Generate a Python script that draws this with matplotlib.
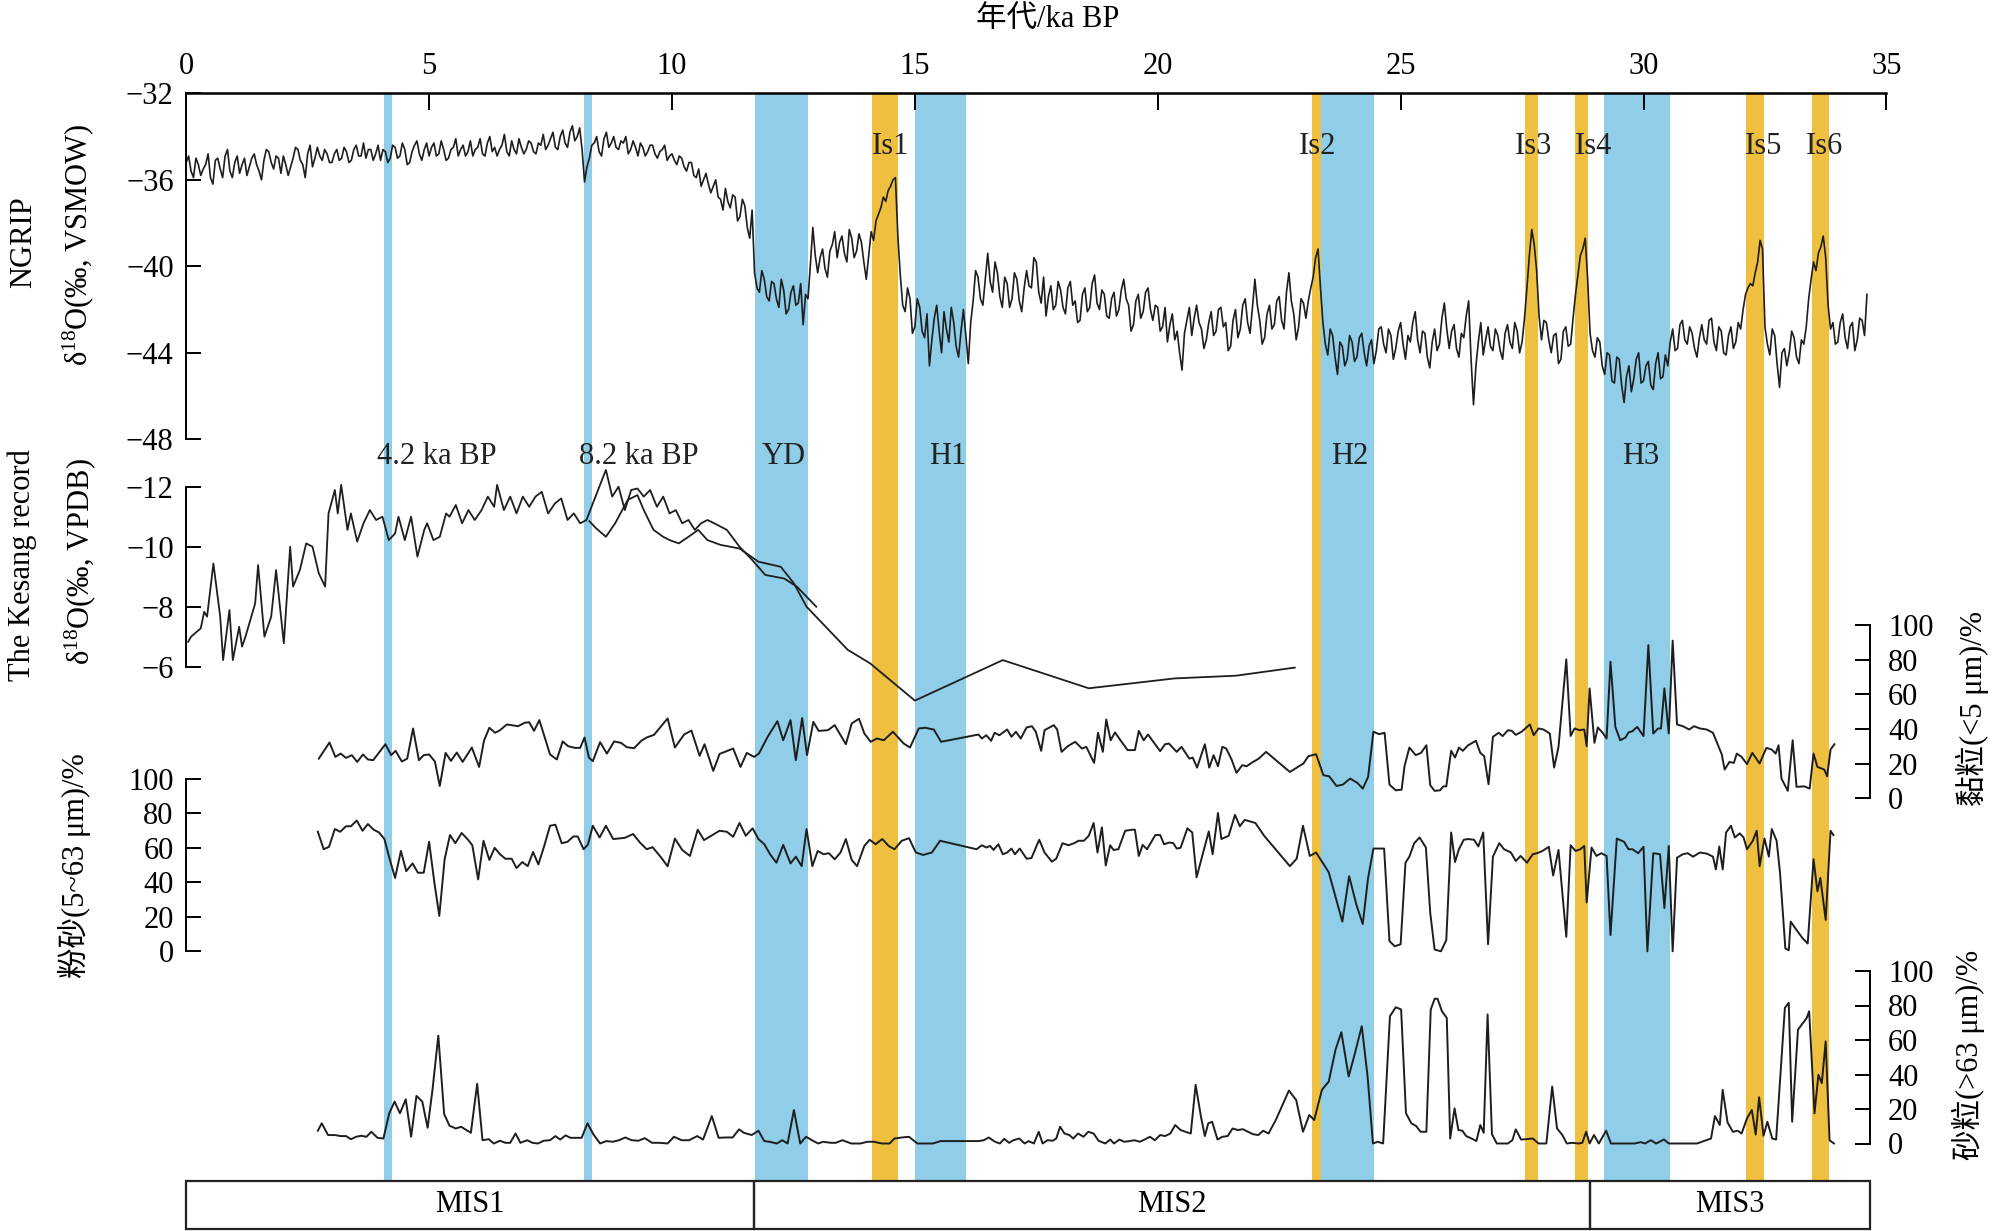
import matplotlib
matplotlib.use("Agg")
import matplotlib.pyplot as plt
from matplotlib.patches import Rectangle

plt.rcParams['font.family'] = ['Liberation Serif', 'Noto Sans CJK SC', 'DejaVu Sans']
plt.rcParams['mathtext.fontset'] = 'custom'
plt.rcParams['mathtext.rm'] = 'Liberation Serif'
plt.rcParams['mathtext.it'] = 'Liberation Serif:italic'

# ---------------- data ----------------
x_ticks = [0, 5, 10, 15, 20, 25, 30, 35]

# shaded events (start ka, end ka, kind: c = cold/blue, w = warm/gold)
band_start = [4.08, 8.19, 11.71, 14.12, 15.01, 23.17, 23.37, 27.55, 28.59, 29.19, 32.11, 33.46]
band_end   = [4.23, 8.35, 12.81, 14.65, 16.05, 23.37, 24.46, 27.83, 28.86, 30.54, 32.49, 33.81]
band_kind  = ['c', 'c', 'c', 'w', 'c', 'w', 'c', 'w', 'w', 'c', 'w', 'w']

is_labels = ['Is1', 'Is2', 'Is3', 'Is4', 'Is5', 'Is6']
is_pos = [14.51, 23.29, 27.74, 28.97, 32.47, 33.73]
event_labels = ['4.2 ka BP', '8.2 ka BP', 'YD', 'H1', 'H2', 'H3']
event_pos = [5.16, 9.32, 12.30, 15.67, 23.96, 29.95]

mis_labels = ['MIS1', 'MIS2', 'MIS3']
mis_bounds = [0.0, 11.69, 28.89, 34.66]

# NGRIP d18O (permil VSMOW), read every 0.05 ka
ngrip_age = [
 0.0,0.05,0.1,0.15,0.2,0.25,0.3,0.35,0.4,0.45,0.5,0.55,0.6,0.65,0.7,0.75,0.8,0.85,0.9,0.95,
 1.0,1.05,1.1,1.15,1.2,1.25,1.3,1.35,1.4,1.45,1.5,1.55,1.6,1.65,1.7,1.75,1.8,1.85,1.9,1.95,
 2.0,2.05,2.1,2.15,2.2,2.25,2.3,2.35,2.4,2.45,2.5,2.55,2.6,2.65,2.7,2.75,2.8,2.85,2.9,2.95,
 3.0,3.05,3.1,3.15,3.2,3.25,3.3,3.35,3.4,3.45,3.5,3.55,3.6,3.65,3.7,3.75,3.8,3.85,3.9,3.95,
 4.0,4.05,4.1,4.15,4.2,4.25,4.3,4.35,4.4,4.45,4.5,4.55,4.6,4.65,4.7,4.75,4.8,4.85,4.9,4.95,
 5.0,5.05,5.1,5.15,5.2,5.25,5.3,5.35,5.4,5.45,5.5,5.55,5.6,5.65,5.7,5.75,5.8,5.85,5.9,5.95,
 6.0,6.05,6.1,6.15,6.2,6.25,6.3,6.35,6.4,6.45,6.5,6.55,6.6,6.65,6.7,6.75,6.8,6.85,6.9,6.95,
 7.0,7.05,7.1,7.15,7.2,7.25,7.3,7.35,7.4,7.45,7.5,7.55,7.6,7.65,7.7,7.75,7.8,7.85,7.9,7.95,
 8.0,8.05,8.1,8.15,8.2,8.25,8.3,8.35,8.4,8.45,8.5,8.55,8.6,8.65,8.7,8.75,8.8,8.85,8.9,8.95,
 9.0,9.05,9.1,9.15,9.2,9.25,9.3,9.35,9.4,9.45,9.5,9.55,9.6,9.65,9.7,9.75,9.8,9.85,9.9,9.95,
 10.0,10.05,10.1,10.15,10.2,10.25,10.3,10.35,10.4,10.45,10.5,10.55,10.6,10.65,10.7,10.75,10.8,10.85,10.9,10.95,
 11.0,11.05,11.1,11.15,11.2,11.25,11.3,11.35,11.4,11.45,11.5,11.55,11.6,11.65,11.7,11.75,11.8,11.85,11.9,11.95,
 12.0,12.05,12.1,12.15,12.2,12.25,12.3,12.35,12.4,12.45,12.5,12.55,12.6,12.65,12.7,12.75,12.8,12.85,12.9,12.95,
 13.0,13.05,13.1,13.15,13.2,13.25,13.3,13.35,13.4,13.45,13.5,13.55,13.6,13.65,13.7,13.75,13.8,13.85,13.9,13.95,
 14.0,14.05,14.1,14.15,14.2,14.25,14.3,14.35,14.4,14.45,14.5,14.55,14.6,14.65,14.7,14.75,14.8,14.85,14.9,14.95,
 15.0,15.05,15.1,15.15,15.2,15.25,15.3,15.35,15.4,15.45,15.5,15.55,15.6,15.65,15.7,15.75,15.8,15.85,15.9,15.95,
 16.0,16.05,16.1,16.15,16.2,16.25,16.3,16.35,16.4,16.45,16.5,16.55,16.6,16.65,16.7,16.75,16.8,16.85,16.9,16.95,
 17.0,17.05,17.1,17.15,17.2,17.25,17.3,17.35,17.4,17.45,17.5,17.55,17.6,17.65,17.7,17.75,17.8,17.85,17.9,17.95,
 18.0,18.05,18.1,18.15,18.2,18.25,18.3,18.35,18.4,18.45,18.5,18.55,18.6,18.65,18.7,18.75,18.8,18.85,18.9,18.95,
 19.0,19.05,19.1,19.15,19.2,19.25,19.3,19.35,19.4,19.45,19.5,19.55,19.6,19.65,19.7,19.75,19.8,19.85,19.9,19.95,
 20.0,20.05,20.1,20.15,20.2,20.25,20.3,20.35,20.4,20.45,20.5,20.55,20.6,20.65,20.7,20.75,20.8,20.85,20.9,20.95,
 21.0,21.05,21.1,21.15,21.2,21.25,21.3,21.35,21.4,21.45,21.5,21.55,21.6,21.65,21.7,21.75,21.8,21.85,21.9,21.95,
 22.0,22.05,22.1,22.15,22.2,22.25,22.3,22.35,22.4,22.45,22.5,22.55,22.6,22.65,22.7,22.75,22.8,22.85,22.9,22.95,
 23.0,23.05,23.1,23.15,23.2,23.25,23.3,23.35,23.4,23.45,23.5,23.55,23.6,23.65,23.7,23.75,23.8,23.85,23.9,23.95,
 24.0,24.05,24.1,24.15,24.2,24.25,24.3,24.35,24.4,24.45,24.5,24.55,24.6,24.65,24.7,24.75,24.8,24.85,24.9,24.95,
 25.0,25.05,25.1,25.15,25.2,25.25,25.3,25.35,25.4,25.45,25.5,25.55,25.6,25.65,25.7,25.75,25.8,25.85,25.9,25.95,
 26.0,26.05,26.1,26.15,26.2,26.25,26.3,26.35,26.4,26.45,26.5,26.55,26.6,26.65,26.7,26.75,26.8,26.85,26.9,26.95,
 27.0,27.05,27.1,27.15,27.2,27.25,27.3,27.35,27.4,27.45,27.5,27.55,27.6,27.65,27.7,27.75,27.8,27.85,27.9,27.95,
 28.0,28.05,28.1,28.15,28.2,28.25,28.3,28.35,28.4,28.45,28.5,28.55,28.6,28.65,28.7,28.75,28.8,28.85,28.9,28.95,
 29.0,29.05,29.1,29.15,29.2,29.25,29.3,29.35,29.4,29.45,29.5,29.55,29.6,29.65,29.7,29.75,29.8,29.85,29.9,29.95,
 30.0,30.05,30.1,30.15,30.2,30.25,30.3,30.35,30.4,30.45,30.5,30.55,30.6,30.65,30.7,30.75,30.8,30.85,30.9,30.95,
 31.0,31.05,31.1,31.15,31.2,31.25,31.3,31.35,31.4,31.45,31.5,31.55,31.6,31.65,31.7,31.75,31.8,31.85,31.9,31.95,
 32.0,32.05,32.1,32.15,32.2,32.25,32.3,32.35,32.4,32.45,32.5,32.55,32.6,32.65,32.7,32.75,32.8,32.85,32.9,32.95,
 33.0,33.05,33.1,33.15,33.2,33.25,33.3,33.35,33.4,33.45,33.5,33.55,33.6,33.65,33.7,33.75,33.8,33.85,33.9,33.95,
 34.0,34.05,34.1,34.15,34.2,34.25,34.3,34.35,34.4,34.45,34.5,34.55,34.6]
ngrip_d18o = [
 -35.2,-34.9,-35.6,-35.9,-35.0,-35.3,-35.8,-35.5,-35.3,-34.8,-35.9,-36.2,-35.1,-35.0,-35.5,-35.9,-34.9,-34.6,-35.6,-35.9,
 -35.2,-34.9,-35.7,-35.3,-35.0,-35.8,-35.4,-35.0,-34.8,-35.3,-35.6,-36.0,-35.1,-34.6,-34.7,-35.2,-35.5,-34.9,-35.0,-35.7,
 -34.9,-35.3,-35.8,-35.4,-35.0,-34.5,-34.6,-35.1,-35.3,-35.9,-34.8,-34.4,-35.4,-35.0,-34.5,-34.9,-35.1,-34.6,-34.8,-35.2,
 -35.2,-34.8,-34.6,-35.1,-35.0,-34.5,-34.7,-35.2,-35.1,-34.6,-34.4,-34.9,-34.9,-34.3,-35.0,-34.6,-34.6,-35.1,-34.8,-34.4,
 -35.1,-34.6,-34.7,-35.2,-35.0,-34.4,-34.5,-35.0,-34.9,-34.3,-34.6,-35.3,-35.2,-34.7,-34.4,-34.2,-34.8,-35.1,-34.6,-34.3,
 -34.9,-34.5,-34.3,-34.9,-34.8,-34.2,-34.6,-35.1,-35.0,-34.6,-34.5,-34.1,-34.9,-34.6,-34.4,-34.9,-34.7,-34.2,-34.9,-34.6,
 -34.5,-34.1,-34.8,-34.9,-34.3,-34.0,-34.7,-34.5,-34.9,-34.6,-34.4,-33.9,-34.7,-34.9,-34.2,-34.6,-34.8,-34.1,-34.5,-34.8,
 -34.6,-34.2,-34.3,-34.7,-34.8,-34.3,-34.4,-33.9,-34.6,-34.4,-34.1,-33.8,-34.5,-34.6,-34.0,-33.7,-34.3,-34.5,-33.8,-33.5,
 -34.2,-34.0,-33.6,-34.6,-36.1,-35.4,-35.0,-34.4,-34.3,-34.0,-34.7,-34.9,-34.1,-33.8,-34.5,-34.3,-34.0,-34.5,-34.6,-34.2,
 -34.3,-34.0,-34.8,-34.6,-34.2,-34.5,-34.9,-34.3,-34.5,-34.9,-34.7,-34.4,-34.4,-34.8,-35.0,-34.7,-34.6,-34.4,-35.1,-34.9,
 -34.8,-35.1,-35.3,-34.9,-35.0,-35.4,-35.6,-35.2,-35.2,-35.8,-35.9,-35.5,-36.3,-36.0,-35.7,-36.2,-36.6,-36.3,-36.0,-36.8,
 -36.9,-37.4,-36.4,-37.0,-37.3,-36.7,-36.8,-37.9,-37.7,-36.9,-37.2,-38.2,-38.7,-37.4,-40.3,-41.0,-41.2,-40.2,-40.6,-41.4,
 -41.6,-40.7,-40.8,-41.5,-41.9,-40.6,-41.1,-42.2,-42.0,-41.2,-40.9,-41.8,-41.7,-40.8,-42.7,-41.3,-41.5,-39.9,-38.2,-39.5,
 -40.3,-39.6,-39.2,-40.1,-40.5,-39.3,-39.0,-38.4,-39.6,-38.9,-38.6,-39.4,-39.8,-38.3,-38.7,-39.6,-39.3,-38.5,-38.9,-39.8,
 -40.6,-39.5,-38.4,-38.8,-37.9,-37.6,-37.3,-36.8,-37.0,-36.5,-36.3,-36.0,-35.9,-38.6,-40.4,-41.8,-42.1,-41.0,-41.5,-43.1,
 -42.8,-41.5,-41.9,-43.0,-43.3,-42.2,-44.6,-43.4,-42.4,-41.8,-43.0,-44.0,-42.1,-42.9,-43.5,-41.9,-42.6,-43.7,-44.2,-43.0,
 -42.0,-43.2,-44.5,-42.6,-41.6,-40.2,-40.5,-41.5,-41.8,-40.6,-39.4,-40.7,-41.2,-39.8,-40.3,-41.4,-41.9,-40.5,-40.8,-41.9,
 -41.5,-40.3,-40.6,-41.6,-42.1,-41.0,-40.2,-40.9,-41.0,-39.6,-39.8,-41.2,-41.7,-40.5,-42.3,-41.4,-40.9,-42.0,-41.8,-40.7,
 -41.1,-41.9,-42.2,-41.0,-40.7,-41.8,-41.6,-42.6,-42.5,-41.3,-41.0,-42.1,-41.9,-40.8,-40.4,-41.7,-42.0,-41.1,-41.3,-42.3,
 -42.4,-41.5,-41.2,-42.3,-42.0,-41.1,-40.6,-41.5,-41.8,-43.0,-42.7,-41.6,-41.3,-42.4,-42.1,-41.2,-41.0,-42.0,-42.5,-41.8,
 -41.9,-43.0,-42.8,-41.9,-43.5,-42.7,-42.2,-43.4,-43.0,-44.0,-44.8,-43.1,-42.5,-41.9,-43.2,-42.4,-41.8,-42.6,-42.9,-43.8,
 -43.4,-42.6,-42.1,-43.2,-43.0,-42.0,-41.9,-42.8,-42.6,-43.9,-43.7,-42.5,-42.0,-43.3,-42.9,-41.8,-41.5,-42.6,-43.1,-41.9,
 -40.6,-41.8,-42.5,-43.6,-43.3,-42.2,-41.8,-42.9,-42.7,-41.6,-41.4,-42.5,-42.9,-41.2,-40.3,-41.6,-42.2,-43.4,-42.8,-41.5,
 -41.7,-42.4,-41.6,-41.0,-40.5,-39.6,-39.2,-41.0,-42.6,-43.6,-44.1,-42.9,-43.2,-44.2,-45.0,-43.5,-43.7,-44.6,-44.3,-43.2,
 -43.5,-44.4,-44.2,-43.3,-43.1,-44.0,-44.6,-43.7,-43.4,-44.5,-43.9,-42.9,-42.8,-43.6,-44.0,-42.9,-43.2,-44.3,-43.8,-43.0,
 -42.6,-43.6,-44.3,-43.2,-43.5,-42.6,-42.1,-43.4,-44.0,-43.0,-43.1,-44.2,-44.7,-43.5,-42.9,-43.9,-43.6,-42.4,-41.7,-42.9,
 -43.8,-43.0,-42.7,-43.8,-44.2,-43.1,-43.3,-42.3,-41.6,-44.3,-46.4,-44.6,-43.5,-42.6,-44.1,-43.4,-42.8,-43.7,-43.9,-42.9,
 -43.2,-43.9,-44.3,-43.1,-42.7,-43.5,-43.8,-42.6,-43.0,-44.0,-43.5,-42.4,-41.0,-39.5,-38.3,-39.0,-40.2,-42.3,-43.4,-42.5,
 -42.6,-43.4,-44.0,-43.2,-43.1,-44.5,-44.3,-43.0,-42.8,-43.7,-43.6,-42.4,-41.3,-40.4,-39.5,-39.2,-38.7,-40.6,-43.1,-43.9,
 -44.2,-43.3,-43.5,-44.6,-45.0,-44.0,-44.1,-45.3,-45.4,-44.2,-44.3,-45.5,-46.3,-45.1,-44.6,-45.8,-45.2,-44.3,-44.0,-45.4,
 -45.3,-44.6,-44.4,-45.5,-45.7,-44.5,-44.0,-45.2,-45.1,-44.1,-44.6,-43.5,-42.9,-43.9,-43.8,-42.7,-42.5,-43.4,-43.6,-42.8,
 -43.1,-43.8,-44.2,-43.3,-42.7,-43.4,-43.6,-42.5,-42.4,-43.5,-43.9,-42.8,-43.0,-44.0,-44.1,-43.2,-42.8,-43.8,-43.5,-42.6,
 -42.9,-42.0,-41.3,-41.0,-40.8,-40.9,-40.3,-39.8,-38.8,-39.2,-42.8,-43.6,-44.1,-42.9,-43.2,-44.5,-45.6,-44.0,-43.8,-44.6,
 -44.0,-43.0,-43.3,-44.2,-44.5,-43.4,-43.6,-42.8,-41.5,-40.6,-39.8,-40.2,-39.4,-39.1,-38.6,-39.6,-41.8,-42.9,-42.6,-43.6,
 -43.5,-42.6,-42.2,-43.3,-43.8,-42.8,-42.6,-43.9,-43.4,-42.4,-42.5,-43.2,-41.3]

# Kesang cave d18O (permil VPDB) - record A
kes_a_age = [0.04,0.10,0.30,0.37,0.43,0.56,0.70,0.76,0.89,0.96,1.09,1.15,1.22,1.42,1.48,1.61,1.75,1.85,2.01,2.14,
 2.20,2.34,2.47,2.60,2.73,2.86,2.93,3.06,3.12,3.19,3.32,3.39,3.52,3.65,3.78,3.91,4.04,4.17,4.30,4.37,
 4.50,4.63,4.76,4.90,4.96,5.09,5.22,5.35,5.42,5.55,5.68,5.81,5.94,6.08,6.21,6.34,6.40,6.54,6.67,6.80,
 6.93,7.06,7.19,7.32,7.45,7.59,7.72,7.85,7.98,8.11,8.24,8.37,8.64,8.77,8.90,9.03,9.16,9.29,9.42,9.55,
 9.69,9.82,9.95,10.08,10.21,10.34,10.47,10.60,10.73,10.87,11.00,11.13,11.39,11.65,11.92,12.31,12.57,12.97]
kes_a_d18o = [-6.83,-7.0,-7.28,-7.83,-7.67,-9.44,-7.67,-6.22,-7.89,-6.22,-7.33,-6.67,-7.0,-8.11,-9.39,-7.0,-7.67,-9.22,-6.78,-10.0,
 -8.67,-9.22,-10.11,-10.0,-9.11,-8.67,-11.11,-11.89,-11.11,-12.06,-10.56,-11.11,-10.17,-10.78,-11.22,-10.89,-11.0,-10.22,-10.44,-11.0,
 -10.22,-11.0,-9.67,-10.56,-10.78,-10.22,-10.33,-11.11,-11.0,-11.39,-10.78,-11.22,-10.89,-11.22,-11.67,-11.33,-12.06,-11.22,-11.67,-11.11,
 -11.67,-11.33,-11.67,-11.83,-11.11,-11.44,-11.61,-10.89,-11.11,-10.78,-10.89,-11.44,-12.56,-11.67,-12.0,-11.22,-11.89,-11.94,-11.67,-11.89,
 -11.33,-11.67,-11.11,-11.22,-10.78,-10.89,-10.56,-10.78,-10.89,-10.78,-10.67,-10.56,-10.0,-9.56,-9.06,-8.94,-8.67,-8.0]
# Kesang record B
kes_b_age = [8.30,8.44,8.64,8.83,9.09,9.29,9.42,9.62,9.82,9.95,10.14,10.34,10.54,10.73,11.0,11.39,11.78,12.24,12.51,12.77,13.23,
 13.62,14.08,15.0,16.81,18.58,20.35,21.61,22.82]
kes_b_d18o = [-10.85,-10.61,-10.33,-10.78,-11.56,-11.72,-11.22,-10.56,-10.33,-10.22,-10.11,-10.33,-10.56,-10.22,-10.06,-9.94,-9.5,-9.33,-8.78,-8.0,-7.22,
 -6.56,-6.11,-4.87,-6.22,-5.28,-5.61,-5.70,-5.97]

# clay (<5 um) %
clay_age = [2.73,2.95,3.07,3.18,3.29,3.41,3.52,3.64,3.74,3.85,4.10,4.22,4.31,4.44,4.55,4.67,4.79,4.89,5.00,5.12,
 5.22,5.34,5.45,5.57,5.69,5.88,6.03,6.13,6.24,6.36,6.46,6.60,6.70,6.83,6.97,7.06,7.16,7.27,7.49,7.63,
 7.75,7.86,8.00,8.11,8.20,8.29,8.37,8.52,8.66,8.81,8.95,9.07,9.22,9.37,9.48,9.63,9.91,10.06,10.25,10.40,
 10.57,10.67,10.85,10.98,11.26,11.41,11.54,11.69,11.79,11.97,12.17,12.29,12.44,12.55,12.68,12.78,12.91,13.02,13.21,13.35,
 13.45,13.58,13.70,13.85,
 13.96,14.09,14.22,14.36,14.55,14.77,14.90,15.08,15.21,15.39,15.54,16.31,16.38,16.47,16.57,16.64,16.74,16.90,16.99,17.08,
 17.18,17.30,17.41,17.49,17.60,17.67,17.86,17.93,18.02,18.15,18.30,18.44,18.53,18.69,18.77,18.87,18.94,19.03,19.12,19.24,
 19.38,19.53,19.61,19.71,19.80,19.91,20.05,20.15,20.23,20.39,20.49,20.65,20.72,20.81,20.97,21.06,21.15,21.24,21.33,21.41,
 21.52,21.62,21.74,21.83,21.94,22.08,22.23,22.72,23.00,23.10,23.26,23.41,23.53,23.68,23.81,23.96,24.11,24.22,24.33,24.44,
 24.56,24.67,24.77,24.90,25.02,
 25.08,25.18,25.31,25.42,25.53,25.61,25.70,25.81,25.88,25.94,26.04,26.12,26.20,26.28,26.39,26.55,26.64,26.72,26.81,26.90,
 27.02,27.10,27.21,27.29,27.37,27.49,27.66,27.74,27.84,27.94,28.07,28.16,28.25,28.41,28.50,28.58,28.68,28.78,28.83,28.89,
 28.99,29.06,29.17,29.24,29.32,29.42,29.52,29.63,29.69,29.77,29.87,30.00,30.10,30.20,30.30,30.36,30.43,30.52,30.60,30.69,
 30.81,30.94,31.04,31.16,31.30,31.43,31.61,31.67,31.77,31.86,31.92,32.02,32.13,32.24,32.39,32.53,32.64,32.72,32.78,32.84,
 32.97,33.07,33.15,33.31,33.42,33.50,33.58,33.72,33.78,33.85,33.93]
clay_pct = [22.9,32.2,23.9,25.8,23.3,24.9,21.0,25.3,22.4,22.0,31.2,24.9,27.4,21.2,22.9,40.3,22.0,24.9,25.3,21.2,
 7.1,26.2,21.6,26.4,21.0,29.3,18.1,33.2,40.7,37.8,39.3,42.6,42.2,41.6,43.6,43.9,38.9,45.1,25.3,22.4,
 32.8,30.1,29.1,29.1,35.1,23.5,21.4,32.4,25.8,32.8,32.0,29.5,28.9,33.2,35.1,36.6,46.1,29.3,36.8,39.1,
 24.5,31.2,15.8,25.6,28.7,18.1,26.2,23.9,25.8,35.5,44.5,33.5,45.1,22.0,46.3,24.9,44.1,38.9,39.3,42.2,
 37.4,31.2,43.2,45.9,
 37.4,32.6,34.5,33.5,38.4,31.6,29.3,40.3,40.7,39.7,32.6,36.8,34.5,36.4,33.2,37.8,36.4,39.7,35.5,38.4,
 34.5,40.9,41.6,38.4,27.4,39.3,42.2,39.7,26.8,30.1,32.6,28.7,29.7,20.4,37.8,26.8,45.5,33.5,38.0,33.2,
 27.8,27.8,38.9,33.5,36.8,32.6,27.2,31.2,31.6,26.8,29.7,22.9,23.5,17.7,31.2,17.7,24.9,18.5,29.7,28.7,
 22.4,14.7,19.1,18.5,20.6,22.9,26.8,15.2,20.1,24.3,25.4,13.3,12.7,7.1,7.9,11.4,8.9,5.6,12.3,38.4,
 37.0,37.8,7.9,4.6,5.0,
 18.5,29.3,24.9,26.2,30.6,7.5,4.3,4.6,6.9,6.9,27.4,23.5,29.3,27.4,30.6,33.2,26.2,24.3,8.1,35.5,
 37.8,35.9,39.3,38.9,36.6,38.4,42.6,36.4,40.3,39.7,37.4,17.7,29.7,80.2,36.0,40.3,39.3,39.7,30.1,63.4,
 32.0,40.9,37.4,34.5,78.8,41.2,33.5,35.1,38.0,38.7,41.2,35.9,88.4,37.4,40.3,40.3,63.4,37.4,91.0,42.6,
 41.6,39.7,41.6,40.3,39.7,37.8,25.4,16.6,21.0,20.4,25.8,23.9,19.7,26.2,20.1,29.1,28.1,25.8,30.6,11.4,
 4.3,33.5,6.6,6.9,5.6,25.8,18.1,16.6,12.7,28.1,31.2]

# silt (5~63 um) %
silt_age = [2.71,2.83,2.94,3.06,3.17,3.29,3.39,3.51,3.63,3.74,3.86,3.97,4.08,4.19,4.30,4.42,4.53,4.66,4.77,4.89,
 5.00,5.11,5.21,5.32,5.43,5.54,5.67,5.79,5.89,6.01,6.12,6.24,6.35,6.46,6.57,6.70,6.80,6.92,7.03,7.14,
 7.25,7.37,7.49,7.60,7.73,7.85,7.97,8.06,8.18,8.27,8.37,8.51,8.64,8.79,9.03,9.20,9.34,9.48,9.60,9.78,
 9.91,10.06,10.21,10.37,10.53,10.66,10.81,10.98,11.13,11.26,11.39,11.52,11.66,11.78,11.90,12.02,12.15,12.29,12.44,12.55,
 12.67,12.77,12.89,13.00,13.12,13.23,13.35,13.47,13.58,13.70,13.81,
 13.96,14.07,14.19,14.33,14.46,14.58,14.73,14.88,15.02,15.17,15.35,15.52,16.27,16.38,16.47,16.55,16.62,16.72,16.81,16.90,
 16.99,17.06,17.16,17.30,17.40,17.56,17.67,17.82,17.91,18.04,18.16,18.28,18.37,18.48,18.58,18.68,18.76,18.85,18.93,19.02,
 19.09,19.19,19.33,19.47,19.53,19.61,19.69,19.78,19.95,20.05,20.13,20.24,20.32,20.39,20.47,20.61,20.71,20.80,21.05,21.13,
 21.24,21.31,21.46,21.59,21.69,21.79,22.01,22.19,22.72,22.86,22.99,23.13,23.26,23.52,23.80,23.94,24.09,24.22,24.33,24.44,
 24.66,24.77,24.88,25.00,
 25.10,25.18,25.28,25.39,25.52,25.61,25.70,25.83,25.94,26.04,26.12,26.20,26.30,26.39,26.51,26.60,26.70,26.80,26.90,27.03,
 27.13,27.27,27.37,27.47,27.60,27.72,27.81,27.92,28.05,28.14,28.25,28.41,28.50,28.60,28.70,28.78,28.83,28.93,29.03,29.13,
 29.24,29.32,29.45,29.60,29.69,29.77,29.89,30.00,30.08,30.20,30.34,30.43,30.52,30.60,30.69,30.81,30.91,31.02,31.16,31.30,
 31.43,31.49,31.56,31.63,31.70,31.80,31.88,31.98,32.06,32.13,32.25,32.33,32.39,32.49,32.58,32.64,32.74,32.81,32.92,32.99,
 33.03,33.15,33.28,33.38,33.50,33.58,33.64,33.75,33.85,33.91]
silt_pct = [69.2,59.1,60.5,70.8,69.2,72.4,72.4,75.7,69.8,73.7,70.4,68.8,65.0,53.3,42.5,58.1,46.4,50.9,45.5,45.5,
 63.4,39.6,20.5,53.3,67.3,62.6,68.5,65.0,61.4,41.6,64.0,52.9,59.9,56.2,53.6,53.6,48.2,51.7,49.3,57.5,
 50.3,61.0,72.7,73.3,62.6,63.4,66.5,66.5,59.1,61.8,72.7,65.9,72.7,65.0,65.7,67.9,63.0,59.1,60.3,54.2,
 49.2,65.3,58.7,55.2,70.4,64.4,66.9,69.8,69.2,66.3,74.3,66.9,71.2,65.0,62.0,56.2,51.3,61.6,50.9,54.8,
 49.3,70.8,49.3,58.1,56.2,56.8,53.3,57.2,65.0,52.9,49.3,
 61.0,64.6,62.0,65.0,61.0,59.1,64.0,65.5,57.2,55.8,57.2,64.0,59.1,61.4,60.1,61.0,58.7,62.0,56.2,57.2,
 59.5,56.2,59.5,53.6,54.0,64.6,57.2,51.9,53.6,62.6,61.4,62.6,64.0,64.0,66.9,74.3,57.2,71.8,49.7,61.4,
 58.7,59.1,69.8,70.4,70.4,55.2,61.6,59.1,67.3,67.3,62.0,63.0,62.6,59.5,59.9,71.2,68.8,42.9,69.4,56.2,
 80.1,65.0,66.9,79.0,72.4,76.1,74.3,66.9,49.3,53.6,72.7,55.2,57.2,45.8,17.2,43.5,26.9,15.8,42.5,59.5,
 59.5,5.9,2.9,4.1,
 51.3,54.8,62.6,65.9,60.1,22.1,1.0,0.0,6.5,68.8,51.7,59.1,64.6,65.0,64.6,60.7,68.8,4.1,54.8,62.6,
 59.1,57.2,52.3,55.2,51.3,56.2,56.8,58.1,60.5,43.9,58.7,8.4,61.4,58.1,59.1,61.0,28.3,60.1,55.2,56.8,
 55.2,9.4,65.3,63.4,59.1,59.1,56.8,60.5,0.0,56.8,56.2,25.0,61.0,0.0,54.2,56.2,56.8,54.8,57.2,56.6,
 54.8,47.4,60.7,47.4,68.8,72.7,65.9,68.3,65.9,59.1,64.0,69.8,49.3,65.3,54.8,70.8,64.0,45.5,1.6,0.6,
 17.2,12.3,7.4,4.5,53.3,34.7,42.5,18.2,69.8,67.3]

# sand (>63 um) %
sand_age = [2.71,2.79,2.92,3.06,3.18,3.29,3.39,3.50,3.60,3.71,3.81,3.94,4.06,4.18,4.29,4.40,4.52,4.63,4.74,4.86,
 4.97,5.07,5.19,5.31,5.42,5.55,5.66,5.77,5.86,5.99,6.10,6.23,6.33,6.46,6.57,6.67,6.78,6.88,7.02,7.13,
 7.24,7.36,7.49,7.60,7.70,7.81,7.91,8.14,8.26,8.38,8.52,8.65,8.78,8.91,9.04,9.17,9.31,9.44,9.59,9.75,
 9.91,10.04,10.20,10.35,10.52,10.64,10.82,10.96,11.11,11.25,11.38,11.48,11.64,11.78,11.90,12.01,12.16,12.27,12.38,12.51,
 12.64,12.76,12.90,13.01,13.11,13.27,13.37,13.51,13.69,13.88,14.02,14.16,14.32,14.48,14.58,14.74,14.88,15.05,15.21,15.37,
 15.53,15.68,15.89,16.10,16.31,16.42,16.52,16.65,16.75,16.84,16.94,17.03,17.15,17.26,17.34,17.45,17.55,17.63,17.73,17.84,
 17.91,17.99,18.08,18.18,18.26,18.36,18.47,18.57,18.68,18.78,
 18.92,19.02,19.10,19.21,19.31,19.42,19.52,19.63,19.73,19.84,19.94,20.05,20.15,20.26,20.36,20.47,20.57,20.68,20.78,20.89,
 20.97,21.04,21.12,21.23,21.33,21.44,21.54,21.65,21.75,21.86,21.96,22.07,22.17,22.28,22.43,22.70,22.85,22.99,23.12,23.22,
 23.38,23.52,23.66,23.78,23.93,24.06,24.20,24.32,24.43,24.53,24.64,24.78,24.90,25.01,25.11,25.22,25.32,25.41,25.53,25.62,
 25.70,25.76,25.85,25.95,26.02,26.11,26.19,26.27,26.35,26.46,26.56,26.64,26.71,26.79,26.88,26.98,27.11,27.21,27.30,27.37,
 27.48,27.58,27.72,27.84,28.00,28.12,28.22,28.33,28.42,28.53,28.66,28.74,28.82,28.89,28.98,29.08,29.23,29.33,29.47,29.63,
 29.82,29.94,30.03,30.15,30.26,30.42,30.52,30.78,31.10,31.20,31.39,31.47,31.57,31.63,31.73,31.84,31.94,32.02,32.13,32.23,
 32.31,32.38,32.47,32.55,32.65,32.73,32.91,32.99,33.06,33.18,33.36,33.41,33.52,33.60,33.67,33.75,33.83,33.92]
sand_pct = [7.4,11.7,4.9,4.9,4.3,4.3,2.5,3.9,4.5,3.9,6.8,3.3,2.9,17.5,24.3,17.5,25.6,3.9,27.6,24.3,
 9.1,31.1,62.5,17.1,10.3,8.7,9.7,7.8,6.2,34.6,1.9,2.5,0,1.6,0.4,0.4,5.8,0.4,1.9,0.4,
 0,1.6,1.9,4.3,2.3,4.7,3.3,3.3,11.7,5.4,0,1.4,1.0,1.9,3.5,1.9,1.6,3.1,0.4,0.4,
 0,3.9,1.9,1.9,4.3,2.3,15.9,3.3,3.5,3.5,8.2,6.2,4.9,7.4,1.4,1.0,0,1.9,0,19.4,
 0,3.9,1.6,0,1.0,0.4,0.4,1.9,0,0,1.0,1.0,0,0,2.9,3.5,3.9,0,0,0,
 1.4,1.4,1.4,1.4,1.4,1.9,3.5,1.0,0,2.7,0.4,1.9,2.9,0,1.4,0,6.8,0,1.9,1.6,
 2.9,9.7,5.8,4.9,2.9,5.8,3.9,6.8,5.8,1.6,
 0,2.3,0,2.3,1.0,1.4,1.9,1.0,2.3,3.9,1.9,4.9,4.3,5.8,10.7,7.8,6.8,5.8,34.0,15.5,
 4.3,11.7,12.6,2.3,3.9,4.3,8.7,7.8,8.3,6.8,5.4,4.9,7.4,5.8,13.6,30.7,25.2,6.8,16.5,13.6,
 31.1,35.9,54.4,64.5,38.8,52.4,68.0,38.8,0,1.0,0,73.8,79.0,77.7,17.5,11.7,10.1,6.8,6.8,77.7,
 83.9,83.9,76.7,72.8,2.9,20.4,7.8,7.4,4.3,2.9,1.4,10.7,6.2,74.8,5.4,0,0,0,1.9,8.2,
 2.3,2.5,2.9,0,0,33.0,8.7,4.9,0,0.4,0,0.4,6.8,0,4.9,0,7.4,0,0,0,
 0,0.8,0,1.9,0,2.3,0,0,0,1.0,2.9,15.9,10.7,31.1,12.2,6.8,7.4,5.8,14.6,19.4,
 5.2,26.8,4.5,12.6,2.9,2.3,78.6,81.6,12.6,66.0,72.8,76.7,17.5,39.8,35.0,59.2,1.9,0]

pct_ticks = [0, 20, 40, 60, 80, 100]
ngrip_ticks = [-48, -44, -40, -36, -32]
kes_ticks = [-12, -10, -8, -6]

# ---------------- layout ----------------
W, H = 1995, 1231
X0, X1 = 186.2, 1886.4          # pixel x of 0 ka and 35 ka
RIGHT_AXIS_KA = 34.66
BLUE = '#8fcde8'
GOLD = '#efbf3f'
LINE = '#1e1e1e'
FS = 22
LW_AX = 1.4

fig = plt.figure(figsize=(W / 100, H / 100), dpi=100)


def rect(top, bottom):
    return [X0 / W, 1 - bottom / H, (X1 - X0) / W, (bottom - top) / H]


# background axis with bands and top age axis
ax_bg = fig.add_axes(rect(93.3, 1181))
ax_bg.set_xlim(0, 35)
ax_bg.set_ylim(0, 1)
for s in ['left', 'right', 'bottom']:
    ax_bg.spines[s].set_visible(False)
ax_bg.spines['top'].set_linewidth(1.8)
ax_bg.xaxis.tick_top()
ax_bg.set_xticks(x_ticks)
ax_bg.set_xticklabels([str(t) for t in x_ticks])
ax_bg.tick_params(axis='x', direction='in', length=12, width=1.4, pad=9,
                  labelsize=FS, top=True, bottom=False)
ax_bg.set_yticks([])
for s, e, k in zip(band_start, band_end, band_kind):
    ax_bg.axvspan(s, e, color=BLUE if k == 'c' else GOLD, lw=0, zorder=0)
for lab, p in zip(is_labels, is_pos):
    ax_bg.text(p, 1 - (147 - 93.3) / (1181 - 93.3), lab, ha='center', va='center',
               fontsize=FS, color='#222222')
for lab, p in zip(event_labels, event_pos):
    ax_bg.text(p, 1 - (457 - 93.3) / (1181 - 93.3), lab, ha='center', va='center',
               fontsize=FS, color='#222222')

fig.text(1048 / W, 1 - 20 / H, '年代/ka BP', ha='center', va='center', fontsize=FS)


def style(ax, side, ticks, ylim, pad):
    ax.set_xlim(0, 35)
    ax.set_ylim(*ylim)
    ax.patch.set_visible(False)
    for s in ['left', 'right', 'top', 'bottom']:
        ax.spines[s].set_visible(s == side)
    ax.spines[side].set_linewidth(LW_AX)
    ax.set_xticks([])
    ax.set_yticks(ticks)
    if side == 'right':
        ax.yaxis.tick_right()
        ax.spines['right'].set_position(('data', RIGHT_AXIS_KA))
    ax.tick_params(axis='y', direction='in', length=11, width=LW_AX, pad=pad,
                   labelsize=FS, left=(side == 'left'), right=(side == 'right'),
                   labelleft=(side == 'left'), labelright=(side == 'right'))


# NGRIP
ax1 = fig.add_axes(rect(93.3, 439.3))
style(ax1, 'left', ngrip_ticks, (-48, -32), 9)
ax1.plot(ngrip_age, ngrip_d18o, color=LINE, lw=1.2, clip_on=False)

# Kesang
ky_top, ky_bot = 440.0, 730.0
kv_top = -12 + (ky_top - 486.7) / 30.0
kv_bot = -12 + (ky_bot - 486.7) / 30.0
ax2 = fig.add_axes(rect(ky_top, ky_bot))
style(ax2, 'left', kes_ticks, (kv_bot, kv_top), 9)
ax2.spines['left'].set_bounds(-12, -6)
ax2.plot(kes_a_age, kes_a_d18o, color=LINE, lw=1.3, clip_on=False)
ax2.plot(kes_b_age, kes_b_d18o, color=LINE, lw=1.3, clip_on=False)

# clay
ax3 = fig.add_axes(rect(625.0, 798.3))
style(ax3, 'right', pct_ticks, (0, 100), 13)
ax3.plot(clay_age, clay_pct, color=LINE, lw=1.4, clip_on=False)

# silt
ax4 = fig.add_axes(rect(778.6, 951.3))
style(ax4, 'left', pct_ticks, (0, 100), 9)
ax4.plot(silt_age, silt_pct, color=LINE, lw=1.4, clip_on=False)

# sand
ax5 = fig.add_axes(rect(971.0, 1143.5))
style(ax5, 'right', pct_ticks, (0, 100), 13)
ax5.plot(sand_age, sand_pct, color=LINE, lw=1.4, clip_on=False)

# MIS bar
ax6 = fig.add_axes(rect(1181.0, 1229.0))
ax6.set_xlim(0, 35)
ax6.set_ylim(0, 1)
ax6.axis('off')
for i, lab in enumerate(mis_labels):
    a, b = mis_bounds[i], mis_bounds[i + 1]
    ax6.add_patch(Rectangle((a, 0), b - a, 1, fill=False, lw=1.6,
                            edgecolor='#222222', clip_on=False))
    ax6.text((a + b) / 2, 0.5, lab, ha='center', va='center', fontsize=FS)


# axis titles
def ftext(x, y, s, **kw):
    fig.text(x / W, 1 - y / H, s, rotation=90, ha='center', va='center',
             fontsize=FS, **kw)


ftext(24, 242, 'NGRIP')
ftext(78, 245, 'δ$^{18}$O(‰, VSMOW)')
ftext(22, 565, 'The Kesang record')
ftext(80, 562, 'δ$^{18}$O(‰, VPDB)')
ftext(74, 866, '粉砂(5~63 μm)/%')
ftext(1972, 709, '黏粒(<5 μm)/%')
ftext(1968, 1055, '砂粒(>63 μm)/%')

fig.savefig('out.png', dpi=100)
